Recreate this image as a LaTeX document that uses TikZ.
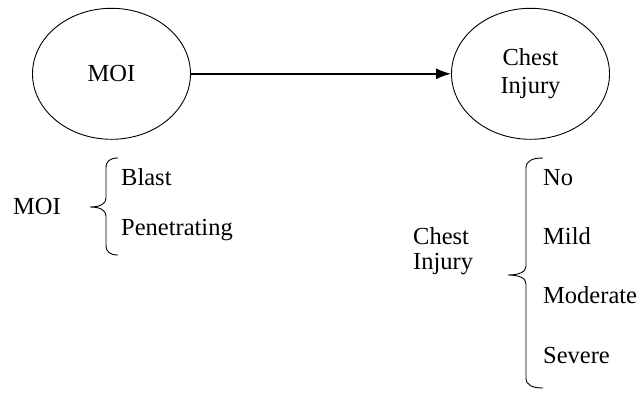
\documentclass[tikz,border=0pt]{standalone}
\usepackage{fontspec}
\setmainfont{Liberation Serif}
\usetikzlibrary{shapes.geometric,arrows.meta}
\begin{document}
\begin{tikzpicture}[x=1pt,y=-1pt,
  every node/.style={font=\fontsize{24.5}{25}\selectfont},
  bubble/.style={draw,ellipse,line width=0.9pt,minimum width=158pt,minimum height=131pt,inner sep=0pt,align=center},
  lbl/.style={anchor=base west,inner sep=0pt},
  brace/.style={line width=0.9pt}]
\useasboundingbox (0,0) rectangle (640,394);
\node[bubble] (moi) at (111.5,73.8) {MOI};
\node[bubble,font=\fontsize{24.5}{28}\selectfont] (ci) at (530.5,73.8) {Chest\\Injury};
\draw[line width=1.4pt,-{Latex[length=15pt,width=11pt]}] (moi) -- (ci);
% left brace
\node[lbl] (lmoi) at (13,214) {MOI};
\node[lbl] (blast) at (121,185.7) {Blast};
\node[lbl] (pen) at (121,235) {Penetrating};
\draw[brace] (118,158) .. controls (110,158) and (106,161) .. (106,168) -- (106,198)
  .. controls (106,204) and (100,207) .. (90,207)
  .. controls (100,207) and (106,210) .. (106,216) -- (106,245)
  .. controls (106,252) and (110,255) .. (118,255);
% right brace
\node[lbl,align=left] (lci) at (413,269) {Chest\\Injury};
\node[lbl] (no) at (543,185.7) {No};
\node[lbl] (mild) at (543,244) {Mild};
\node[lbl] (mod) at (543,303) {Moderate};
\node[lbl] (sev) at (543,363) {Severe};
\draw[brace] (543,158) .. controls (532,158) and (526,161) .. (526,168) -- (526,266)
  .. controls (526,272) and (519,275) .. (508,275)
  .. controls (519,275) and (526,278) .. (526,284) -- (526,378)
  .. controls (526,385) and (532,388) .. (543,388);
\end{tikzpicture}
\end{document}
